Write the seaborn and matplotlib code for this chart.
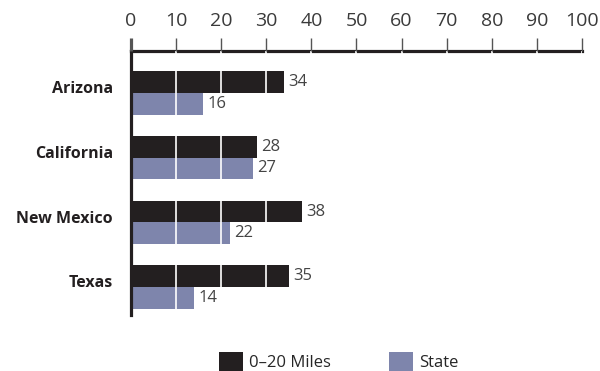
import matplotlib
matplotlib.use("Agg")
import matplotlib.pyplot as plt
import matplotlib.transforms as mtransforms
from matplotlib.patches import Patch
import seaborn as sns
import pandas as pd

states = ["Arizona", "California", "New Mexico", "Texas"]
miles_0_20 = [34, 28, 38, 35]
state_vals = [16, 27, 22, 14]
series_names = ["0–20 Miles", "State"]
xticks = [0, 10, 20, 30, 40, 50, 60, 70, 80, 90, 100]

dark = "#231f20"
blue = "#7e85ac"

df = pd.DataFrame({
    "state": states * 2,
    "value": miles_0_20 + state_vals,
    "series": [series_names[0]] * len(states) + [series_names[1]] * len(states),
})

sns.set_theme(style="white")
plt.rcParams["font.family"] = ["Open Sans", "DejaVu Sans"]

fig = plt.figure(figsize=(6, 3.71), dpi=100)
ax = fig.add_axes([0.2183, 0.1509, 0.97 - 0.2183, 0.8625 - 0.1509])

sns.barplot(data=df, y="state", x="value", hue="series", orient="h",
            palette=[dark, blue], width=0.667, ax=ax, legend=False,
            saturation=1, linewidth=0)

ax.set_xlim(0, 100)
ax.set_ylim(3.433, -0.649)
ax.set_xlabel("")
ax.set_ylabel("")

ax.xaxis.tick_top()
ax.set_xticks(xticks)
ax.set_xticklabels([str(t) for t in xticks], fontsize=14, color="#3a3a3a")
ax.tick_params(axis="x", which="major", direction="out", length=9.4, width=1,
               color="#555555", pad=6, top=True, bottom=False)
ax.tick_params(axis="y", length=0, pad=13)
for lbl in ax.get_yticklabels():
    lbl.set_fontweight("bold")
    lbl.set_fontsize(11.5)
    lbl.set_color("#231f20")
    lbl.set_transform(lbl.get_transform() + mtransforms.ScaledTranslation(0, 4 / 72, fig.dpi_scale_trans))

for sp in ["right", "bottom"]:
    ax.spines[sp].set_visible(False)
for sp in ["left", "top"]:
    ax.spines[sp].set_color(dark)
    ax.spines[sp].set_linewidth(2.3)

# white grid lines over the bars
ax.grid(axis="x", color="white", linewidth=1.2)
ax.grid(axis="y", visible=False)
ax.set_axisbelow(False)
ticks = ax.xaxis.get_major_ticks()
ticks[0].gridline.set_visible(False)
ticks[0].tick2line.set_markeredgewidth(2.3)
ticks[0].tick2line.set_color(dark)

for cont in ax.containers:
    ax.bar_label(cont, padding=3, fontsize=12, color="#444444")

handles = [Patch(facecolor=dark, edgecolor="none"), Patch(facecolor=blue, edgecolor="none")]
fig.legend(handles, series_names, loc="lower center", bbox_to_anchor=(0.565, -0.04),
           ncol=2, frameon=False, fontsize=12, handlelength=1.4, handleheight=1.4,
           handletextpad=0.4, columnspacing=3.5)

fig.savefig("out.png", dpi=100)
